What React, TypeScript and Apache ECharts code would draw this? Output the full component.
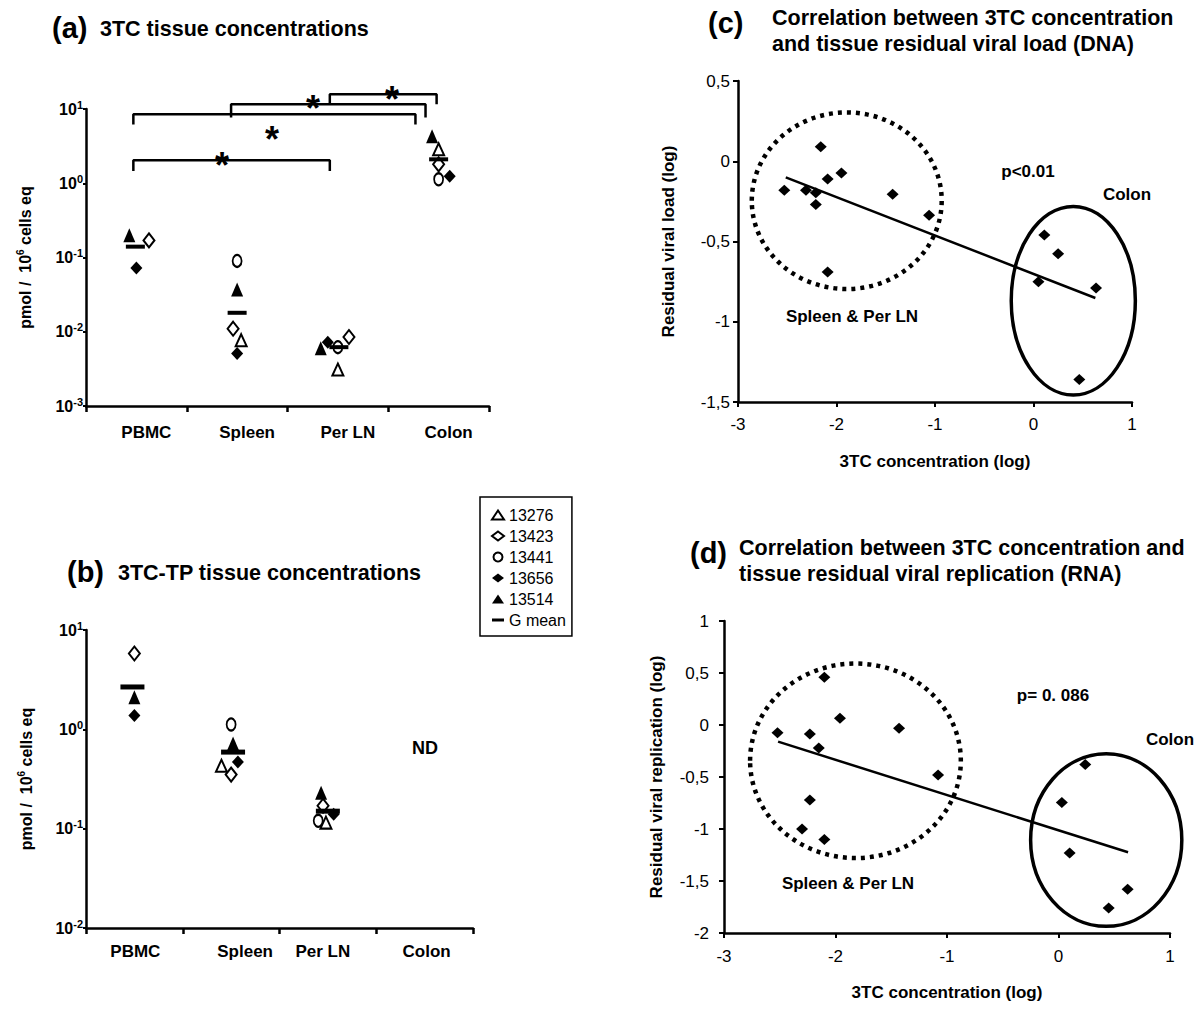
import React, { useEffect, useRef } from "react";
import * as echarts from "echarts";

const FONT = '"Liberation Sans", Arial, Helvetica, sans-serif';

// ---------- data ----------
const tissues = ["PBMC", "Spleen", "Per LN", "Colon"];
const subjects = ["13276", "13423", "13441", "13656", "13514", "G mean"];

// (a) 3TC tissue concentrations, pmol / 10^6 cells eq (null = not plotted)
const tc_13276 = [null, 0.0077, 0.0031, 2.87];
const tc_13423 = [0.17, 0.011, 0.0085, 1.8];
const tc_13441 = [null, 0.09, 0.0062, 1.13];
const tc_13656 = [0.072, 0.0051, 0.0072, 1.24];
const tc_13514 = [0.2, 0.037, 0.006, 4.3];
const tc_gmean = [0.14, 0.018, 0.0062, 2.1];

// (b) 3TC-TP tissue concentrations (Colon: ND)
const tp_13276 = [null, 0.43, 0.115, null];
const tp_13423 = [5.8, 0.35, 0.17, null];
const tp_13441 = [null, 1.12, 0.12, null];
const tp_13656 = [1.38, 0.47, 0.14, null];
const tp_13514 = [2.1, 0.72, 0.23, null];
const tp_gmean = [2.67, 0.59, 0.15, null];

// (c) residual viral load (DNA) vs 3TC concentration
const dnaX = [-2.53, -2.31, -2.21, -2.21, -2.16, -2.09, -1.95, -1.43, -1.06, -2.09, 0.11, 0.25, 0.05, 0.635, 0.465];
const dnaY = [-0.18, -0.18, -0.196, -0.27, 0.09, -0.11, -0.073, -0.206, -0.337, -0.69, -0.46, -0.577, -0.75, -0.79, -1.36];
const dnaFit = [[-2.515, -0.1], [0.628, -0.852]];

// (d) residual viral replication (RNA) vs 3TC concentration
const rnaX = [-2.52, -2.23, -2.15, -2.1, -1.96, -1.43, -1.08, -2.23, -2.3, -2.1, 0.24, 0.03, 0.1, 0.62, 0.45];
const rnaY = [-0.074, -0.087, -0.22, 0.46, 0.064, -0.032, -0.48, -0.72, -1.0, -1.1, -0.38, -0.745, -1.23, -1.58, -1.76];
const rnaFit = [[-2.515, -0.16], [0.624, -1.224]];

// group ellipses [cx, cy, rx, ry, dashed]
const dnaGroups = [[-1.896, -0.246, 0.964, 0.55, 1], [0.404, -0.869, 0.63, 0.5875, 0]];
const rnaGroups = [[-1.821, -0.344, 0.945, 0.935, 1], [0.428, -1.106, 0.678, 0.83, 0]];

// significance brackets in panel (a): [x (category units), y (value)]
const brackets = [
  [[-0.03, 6.2], [-0.03, 8.5], [2.77, 8.5], [2.77, 6.2]],
  [[0.94, 7.66], [0.94, 11.6], [2.87, 11.6], [2.87, 7.66]],
  [[1.92, 11.6], [1.92, 15.8], [2.98, 15.8], [2.98, 11.6]],
  [[-0.03, 1.46], [-0.03, 2.04], [1.92, 2.04], [1.92, 1.46]],
];

// horizontal jitter of markers within a tissue column (category units)
const jitterA: Record<string, number[]> = {
  "13276": [0, 0.04, 0, 0],
  "13423": [0.125, -0.04, 0.11, 0],
  "13441": [0, 0, 0, 0],
  "13656": [0, 0, -0.1, 0.11],
  "13514": [-0.07, 0, -0.17, -0.065],
  "G mean": [-0.01, 0, 0.01, 0],
};
const jitterB: Record<string, number[]> = {
  "13276": [0, -0.1, -0.02, 0],
  "13423": [0, 0, -0.05, 0],
  "13441": [0, 0, -0.1, 0],
  "13656": [0, 0.07, 0.06, 0],
  "13514": [0, 0.02, -0.07, 0],
  "G mean": [-0.02, 0.02, 0, 0],
};

const valuesA: Record<string, (number | null)[]> = {
  "13276": tc_13276, "13423": tc_13423, "13441": tc_13441,
  "13656": tc_13656, "13514": tc_13514, "G mean": tc_gmean,
};
const valuesB: Record<string, (number | null)[]> = {
  "13276": tp_13276, "13423": tp_13423, "13441": tp_13441,
  "13656": tp_13656, "13514": tp_13514, "G mean": tp_gmean,
};

const markerStyles: Record<string, any> = {
  "13276": { symbol: "triangle", size: [11, 12], open: true },
  "13423": { symbol: "diamond", size: [11, 14], open: true },
  "13441": { symbol: "circle", size: [9, 12], open: true },
  "13656": { symbol: "diamond", size: [12, 13], open: false },
  "13514": { symbol: "triangle", size: [12, 14], open: false },
  "G mean": { symbol: "rect", size: [19, 4], open: false },
};
const legendIcons: Record<string, string> = {
  "13276": "triangle", "13423": "diamond", "13441": "circle",
  "13656": "diamond", "13514": "triangle", "G mean": "path://M0,0H12V3H0Z",
};

function tissueSeries(name: string, values: (number | null)[], jitter: number[], xi: number, yi: number, meanSize: number[]) {
  const st = markerStyles[name];
  const data: number[][] = [];
  values.forEach((v, i) => {
    if (v != null) data.push([i + jitter[i], v]);
  });
  return {
    type: "scatter",
    name,
    xAxisIndex: xi,
    yAxisIndex: yi,
    symbol: st.symbol,
    symbolSize: name === "G mean" ? meanSize : st.size,
    itemStyle: {
      color: st.open ? "#fff" : "#000",
      borderColor: "#000",
      borderWidth: st.open ? 2 : 0,
      opacity: 1,
    },
    data,
    silent: true,
    z: name === "G mean" ? 4 : 3,
  };
}

const blk = "#000";
const axisLineStyle = { onZero: false, lineStyle: { color: blk, width: 2.5 } };

function logLabel(v: number) {
  const e = Math.round(Math.log10(v));
  return `{b|10}{s|${e}}`;
}
const logRich = {
  b: { fontSize: 16, fontWeight: "bold", color: blk, fontFamily: FONT, lineHeight: 20 },
  s: { fontSize: 11, fontWeight: "bold", color: blk, fontFamily: FONT, verticalAlign: "top", lineHeight: 11 },
};
const yNameStyle = {
  fontSize: 16, fontWeight: "bold", color: blk, fontFamily: FONT, lineHeight: 20,
  rich: { s: { fontSize: 10, fontWeight: "bold", color: blk, fontFamily: FONT, verticalAlign: "top", lineHeight: 10 } },
};
const comma = (v: number) => String(v).replace(".", ",");

function ellipseSeries(data: number[][], xi: number, yi: number) {
  return {
    type: "custom",
    coordinateSystem: "cartesian2d",
    xAxisIndex: xi,
    yAxisIndex: yi,
    silent: true,
    z: 1,
    data,
    renderItem: (params: any, api: any) => {
      const c = api.coord([api.value(0), api.value(1)]);
      const s = api.size([api.value(2), api.value(3)]);
      const dashed = api.value(4) === 1;
      return {
        type: "ellipse",
        shape: { cx: c[0], cy: c[1], rx: s[0], ry: s[1] },
        style: { fill: "none", stroke: blk, lineWidth: dashed ? 4.5 : 3.5, lineDash: dashed ? [4, 5] : null },
      };
    },
  };
}

function txt(text: string, x: number, y: number, size: number, align = "left", weight = "bold") {
  return {
    type: "text",
    x,
    y,
    silent: true,
    style: {
      text,
      fill: blk,
      font: `${weight} ${size}px ${FONT}`,
      align,
      verticalAlign: "middle",
      textAlign: align,
      textVerticalAlign: "middle",
    },
  };
}

export default function App() {
  const ref = useRef<HTMLDivElement>(null);
  useEffect(() => {
    if (!ref.current) return;
    const chart = echarts.init(ref.current, null, { renderer: "svg" });

    const series: any[] = [];
    subjects.forEach((s) => series.push(tissueSeries(s, valuesA[s], jitterA[s], 1, 0, [19, 4])));
    subjects.forEach((s) => series.push(tissueSeries(s, valuesB[s], jitterB[s], 3, 1, [24, 5])));
    brackets.forEach((b) =>
      series.push({
        type: "line", xAxisIndex: 1, yAxisIndex: 0, data: b, symbol: "none", clip: false, silent: true,
        lineStyle: { color: blk, width: 2.5 }, z: 2,
      })
    );
    series.push(ellipseSeries(dnaGroups, 4, 2));
    series.push({ type: "line", xAxisIndex: 4, yAxisIndex: 2, data: dnaFit, symbol: "none", silent: true, lineStyle: { color: blk, width: 2.5 }, z: 2 });
    series.push({
      type: "scatter", xAxisIndex: 4, yAxisIndex: 2, symbol: "diamond", symbolSize: [12, 11], silent: true,
      itemStyle: { color: blk, opacity: 1 }, data: dnaX.map((x, i) => [x, dnaY[i]]), z: 3,
    });
    series.push(ellipseSeries(rnaGroups, 5, 3));
    series.push({ type: "line", xAxisIndex: 5, yAxisIndex: 3, data: rnaFit, symbol: "none", silent: true, lineStyle: { color: blk, width: 2.5 }, z: 2 });
    series.push({
      type: "scatter", xAxisIndex: 5, yAxisIndex: 3, symbol: "diamond", symbolSize: [12, 11], silent: true,
      itemStyle: { color: blk, opacity: 1 }, data: rnaX.map((x, i) => [x, rnaY[i]]), z: 3,
    });

    const catLabelBase = { fontSize: 17, fontWeight: "bold", color: blk, fontFamily: FONT };
    const numLabel = { fontSize: 17, color: blk, fontFamily: FONT };
    const axisNameStyle = { fontSize: 17, fontWeight: "bold", color: blk, fontFamily: FONT };

    const option: any = {
      animation: false,
      backgroundColor: "#fff",
      textStyle: { fontFamily: FONT },
      grid: [
        { left: 86, top: 109, width: 403, height: 297, outerBoundsMode: "none" },
        { left: 86, top: 630, width: 387, height: 298, outerBoundsMode: "none" },
        { left: 738, top: 81, width: 394, height: 321, outerBoundsMode: "none" },
        { left: 724, top: 621, width: 446, height: 312, outerBoundsMode: "none" },
      ],
      legend: {
        show: true,
        orient: "vertical",
        left: 480,
        top: 497,
        data: subjects.map((s) => ({ name: s, icon: legendIcons[s] })),
        itemWidth: 12,
        itemHeight: 9,
        itemGap: 5,
        padding: [10, 6, 8, 11],
        borderColor: blk,
        borderWidth: 1.5,
        selectedMode: false,
        textStyle: { fontSize: 16, color: blk, fontFamily: FONT },
      },
      xAxis: [
        {
          gridIndex: 0, type: "category", data: tissues, boundaryGap: true,
          axisLine: axisLineStyle, axisTick: { show: true, length: 6, lineStyle: { color: blk, width: 2.5 } },
          axisLabel: { ...catLabelBase, interval: 0, margin: 18, padding: [0, 0, 0, 20] },
          splitLine: { show: false },
        },
        { gridIndex: 0, type: "value", min: -0.5, max: 3.5, show: false },
        {
          gridIndex: 1, type: "category", data: tissues, boundaryGap: true,
          axisLine: axisLineStyle, axisTick: { show: true, length: 6, lineStyle: { color: blk, width: 2.5 } },
          axisLabel: {
            ...catLabelBase, margin: 15, interval: 0, hideOverlap: false,
            formatter: (v: string) => {
              const k = v === "PBMC" ? "p" : v === "Spleen" ? "s" : v === "Per LN" ? "l" : "c";
              return `{${k}|${v}}`;
            },
            rich: {
              p: { ...catLabelBase, padding: [0, 0, 0, 2] },
              s: { ...catLabelBase, padding: [0, 0, 0, 28] },
              l: { ...catLabelBase, padding: [0, 10, 0, 0] },
              c: { ...catLabelBase, padding: [0, 0, 0, 4] },
            },
          },
          splitLine: { show: false },
        },
        { gridIndex: 1, type: "value", min: -0.5, max: 3.5, show: false },
        {
          gridIndex: 2, type: "value", min: -3, max: 1, interval: 1,
          axisLine: axisLineStyle, axisTick: { show: true, length: 5, lineStyle: { color: blk, width: 2 } },
          axisLabel: { ...numLabel, margin: 14 }, splitLine: { show: false },
          name: "3TC concentration (log)", nameLocation: "middle", nameGap: 51, nameTextStyle: axisNameStyle,
        },
        {
          gridIndex: 3, type: "value", min: -3, max: 1, interval: 1,
          axisLine: axisLineStyle, axisTick: { show: true, length: 5, lineStyle: { color: blk, width: 2 } },
          axisLabel: { ...numLabel, margin: 15 }, splitLine: { show: false },
          name: "3TC concentration (log)", nameLocation: "middle", nameGap: 51, nameTextStyle: axisNameStyle,
        },
      ],
      yAxis: [
        {
          gridIndex: 0, type: "log", logBase: 10, min: 0.001, max: 10,
          axisLine: { show: true, ...axisLineStyle }, axisTick: { show: true, length: 3, lineStyle: { color: blk, width: 2 } },
          axisLabel: { formatter: logLabel, rich: logRich, margin: 3 },
          splitLine: { show: false }, minorTick: { show: false },
          name: "pmol /  10{s|6} cells eq", nameLocation: "middle", nameRotate: 90, nameGap: 51, nameTextStyle: yNameStyle,
        },
        {
          gridIndex: 1, type: "log", logBase: 10, min: 0.01, max: 10,
          axisLine: { show: true, ...axisLineStyle }, axisTick: { show: true, length: 3, lineStyle: { color: blk, width: 2 } },
          axisLabel: { formatter: logLabel, rich: logRich, margin: 3 },
          splitLine: { show: false }, minorTick: { show: false },
          name: "pmol /  10{s|6} cells eq", nameLocation: "middle", nameRotate: 90, nameGap: 50, nameTextStyle: yNameStyle,
        },
        {
          gridIndex: 2, type: "value", min: -1.5, max: 0.5, interval: 0.5,
          axisLine: { show: true, ...axisLineStyle }, axisTick: { show: true, length: 5, lineStyle: { color: blk, width: 2 } },
          axisLabel: { ...numLabel, margin: 8, formatter: comma }, splitLine: { show: false },
          name: "Residual viral load (log)", nameLocation: "middle", nameRotate: 90, nameGap: 61, nameTextStyle: axisNameStyle,
        },
        {
          gridIndex: 3, type: "value", min: -2, max: 1, interval: 0.5,
          axisLine: { show: true, ...axisLineStyle }, axisTick: { show: true, length: 5, lineStyle: { color: blk, width: 2 } },
          axisLabel: { ...numLabel, margin: 15, formatter: comma }, splitLine: { show: false },
          name: "Residual viral replication (log)", nameLocation: "middle", nameRotate: 90, nameGap: 59, nameTextStyle: axisNameStyle,
        },
      ],
      graphic: [
        txt("(a)", 52, 28, 29),
        txt("3TC tissue concentrations", 100, 29, 21.5),
        txt("(b)", 67, 572, 29),
        txt("3TC-TP tissue concentrations", 118, 573, 21.5),
        txt("(c)", 708, 23, 29),
        txt("Correlation between 3TC concentration", 772, 18, 21.5),
        txt("and tissue residual viral load (DNA)", 772, 44, 21.5),
        txt("(d)", 690, 553, 29),
        txt("Correlation between 3TC concentration and", 739, 548, 21.5),
        txt("tissue residual viral replication (RNA)", 739, 574, 21.5),
        txt("*", 272, 139, 36, "center"),
        txt("*", 313, 108, 36, "center"),
        txt("*", 392, 99, 36, "center"),
        txt("*", 222, 165, 36, "center"),
        txt("ND", 425, 748, 18, "center"),
        txt("p<0.01", 1028, 171, 17, "center"),
        txt("Colon", 1127, 194, 17, "center"),
        txt("Spleen & Per LN", 852, 316, 17, "center"),
        txt("p= 0. 086", 1053, 695, 17, "center"),
        txt("Colon", 1170, 739, 17, "center"),
        txt("Spleen & Per LN", 848, 883, 17, "center"),
      ],
      series,
    };
    chart.setOption(option);
    return () => chart.dispose();
  }, []);

  return (
    <div
      ref={ref}
      style={{ position: "absolute", left: 0, top: 0, width: 1200, height: 1010, background: "#fff" }}
    />
  );
}
